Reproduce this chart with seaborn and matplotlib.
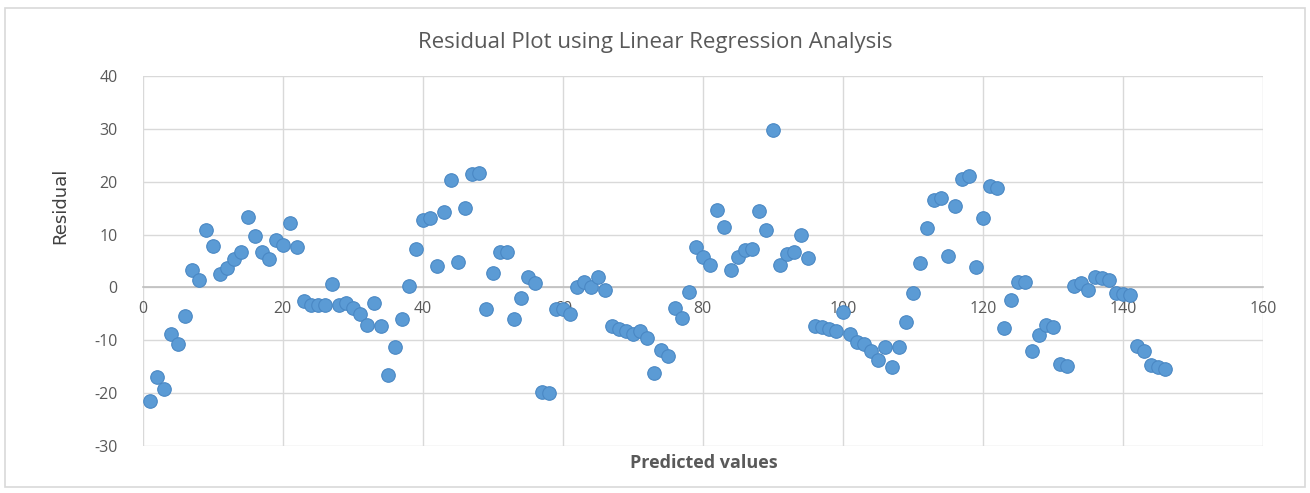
"""
Residual plot (linear regression) - recreated with seaborn
"""

import pandas as pd
import matplotlib.pyplot as plt
import seaborn as sns
from matplotlib.patches import Rectangle

# 数据: x 为序号, y 为残差
predicted = list(range(1, 147))
residual = [
    -21.5, -17.0, -19.1, -8.7, -10.6, -5.3, 3.4, 1.5, 10.8, 7.8,
    2.6, 3.7, 5.3, 6.7, 13.3, 9.8, 6.8, 5.4, 8.9, 8.0,
    12.2, 7.6, -2.5, -3.3, -3.4, -3.4, 0.7, -3.4, -3.0, -3.8,
    -5.1, -7.0, -3.0, -7.3, -16.5, -11.3, -5.9, 0.2, 7.2, 12.7,
    13.1, 4.0, 14.2, 20.4, 4.9, 15.1, 21.5, 21.7, -4.0, 2.7,
    6.8, 6.8, -5.9, -2.0, 1.9, 0.8, -19.8, -20.0, -4.0, -4.0,
    -5.0, 0.0, 1.0, 0.0, 1.9, -0.4, -7.3, -7.8, -8.3, -8.8,
    -8.3, -9.5, -16.1, -11.9, -12.9, -3.8, -5.8, -0.8, 7.6, 5.7,
    4.3, 14.6, 11.4, 3.4, 5.7, 7.0, 7.2, 14.4, 10.8, 29.7,
    4.3, 6.4, 6.8, 10.0, 5.5, -7.3, -7.4, -7.8, -8.3, -4.7,
    -8.7, -10.4, -10.6, -12.1, -13.8, -11.3, -15.1, -11.3, -6.6, -1.0,
    4.7, 11.2, 16.6, 17.0, 5.9, 15.5, 20.6, 21.0, 3.8, 13.2,
    19.2, 18.8, -7.7, -2.3, 1.0, 1.0, -12.0, -9.0, -7.0, -7.5,
    -14.5, -14.8, 0.3, 0.9, -0.5, 2.0, 1.8, 1.4, -1.0, -1.2,
    -1.4, -11.0, -12.0, -14.7, -15.0, -15.4,
]
x_ticks = [0, 20, 40, 60, 80, 100, 120, 140, 160]
y_ticks = [-30, -20, -10, 0, 10, 20, 30, 40]

df = pd.DataFrame({'Predicted values': predicted, 'Residual': residual})

sns.set_style('white')
plt.rcParams['font.family'] = ['Open Sans', 'DejaVu Sans']
plt.rcParams['axes.unicode_minus'] = False

text_color = '#595959'
grid_color = '#D9D9D9'

fig = plt.figure(figsize=(13.1, 4.93), dpi=100)
ax = fig.add_axes([0.109, 0.095, 0.855, 0.751])

# 外框
fig.patches.append(Rectangle((0.004, 0.012), 0.992, 0.972, transform=fig.transFigure,
                             fill=False, edgecolor=grid_color, linewidth=1.2))

sns.scatterplot(data=df, x='Predicted values', y='Residual', ax=ax,
                color='#5B9BD5', s=95, edgecolor='#4A88C4', linewidth=0.8, zorder=3)

ax.set_xlim(0, 160)
ax.set_ylim(-30, 40)
ax.set_xticks(x_ticks)
ax.set_yticks(y_ticks)
ax.grid(True, color=grid_color, linewidth=1.0)
ax.set_axisbelow(True)

for side in ['top', 'right', 'left']:
    ax.spines[side].set_visible(False)
# x轴放在 y=0 处 (Excel 风格)
ax.spines['bottom'].set_position(('data', 0))
ax.spines['bottom'].set_color('#BFBFBF')
ax.spines['bottom'].set_linewidth(1.2)

ax.tick_params(axis='both', length=0, labelsize=11.5, labelcolor=text_color)
ax.tick_params(axis='x', pad=10)
ax.tick_params(axis='y', pad=18)

ax.set_xlabel('')
ax.set_ylabel('')
fig.text(0.537, 0.06, 'Predicted values', ha='center', va='center',
         fontsize=13, fontweight='bold', color=text_color)
fig.text(0.046, 0.582, 'Residual', ha='center', va='center', rotation=90,
         fontsize=13, color='#404040', family=['Liberation Sans Narrow', 'DejaVu Sans'])
fig.text(0.5, 0.913, 'Residual Plot using Linear Regression Analysis',
         ha='center', va='center', fontsize=16, color=text_color)

plt.savefig('out.png', dpi=100)
